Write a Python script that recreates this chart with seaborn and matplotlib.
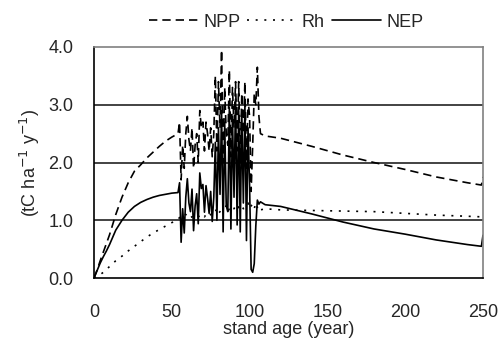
import pandas as pd
import seaborn as sns
import matplotlib.pyplot as plt

# stand age (years) and carbon fluxes (tC ha-1 y-1)
age = [0, 2, 4, 6, 8, 10, 14, 18, 22, 26, 30, 34, 38, 42, 46, 50, 54,
       55, 56, 57, 58, 59, 60, 61, 62, 63, 64, 65, 66, 67, 68, 69, 70,
       71, 72, 73, 74, 75, 76, 77, 78, 79, 80, 81, 82, 83, 84, 85, 86,
       87, 88, 89, 90, 91, 92, 93, 94, 95, 96, 97, 98, 99, 100, 101, 102,
       103, 104, 105, 106, 107, 110, 120, 140, 160, 180, 200, 220, 240, 249, 250]

npp = [0.0, 0.14, 0.3, 0.45, 0.6, 0.75, 1.1, 1.4, 1.65, 1.85, 1.96, 2.08, 2.18, 2.28, 2.37, 2.44, 2.5,
       2.7, 1.7, 2.3, 1.9, 2.5, 2.8, 2.4, 2.2, 2.6, 1.9, 2.3, 2.5, 2.0, 2.9, 2.6, 2.7,
       2.2, 2.7, 2.5, 2.2, 2.6, 2.1, 2.5, 3.5, 2.2, 3.4, 2.6, 3.95, 2.0, 3.3, 2.5, 2.3,
       3.6, 2.1, 3.3, 2.6, 3.4, 2.2, 3.4, 2.0, 3.2, 2.5, 3.4, 1.9, 3.1, 2.8, 1.5, 2.3,
       3.2, 3.0, 3.65, 2.8, 2.5, 2.46, 2.42, 2.28, 2.13, 2.0, 1.88, 1.75, 1.65, 1.61, 1.75]

rh = [0.0, 0.03, 0.06, 0.1, 0.15, 0.2, 0.3, 0.38, 0.47, 0.55, 0.63, 0.71, 0.78, 0.84, 0.9, 0.96, 1.01,
      1.05, 1.08, 1.1, 1.12, 1.1, 1.08, 1.1, 1.05, 1.06, 1.08, 1.05, 1.04, 1.06, 1.08, 1.05, 1.08,
      1.06, 1.1, 1.12, 1.08, 1.1, 1.12, 1.1, 1.15, 1.2, 1.12, 1.15, 1.18, 1.2, 1.22, 1.25, 1.15,
      1.2, 1.25, 1.22, 1.2, 1.25, 1.28, 1.22, 1.2, 1.25, 1.2, 1.22, 1.25, 1.3, 1.2, 1.25, 1.28,
      1.2, 1.3, 1.22, 1.15, 1.18, 1.2, 1.18, 1.17, 1.16, 1.15, 1.12, 1.09, 1.07, 1.06, 1.06]

nep = [0.0, 0.13, 0.26, 0.37, 0.47, 0.58, 0.83, 1.0, 1.14, 1.24, 1.31, 1.36, 1.4, 1.43, 1.45, 1.47, 1.48,
       1.65, 0.62, 1.2, 0.78, 1.4, 1.72, 1.3, 1.15, 1.54, 0.82, 1.25, 1.46, 0.94, 1.82, 1.55, 1.62,
       1.14, 1.6, 1.38, 1.12, 1.5, 0.98, 1.4, 2.35, 1.0, 2.6, 1.45, 2.9, 0.8, 2.7, 1.25, 1.15,
       2.95, 0.85, 2.8, 1.4, 3.1, 0.92, 2.9, 0.8, 2.85, 1.3, 3.0, 0.65, 2.6, 1.6, 0.15, 0.1,
       0.25, 0.9, 1.35, 1.28, 1.32, 1.27, 1.24, 1.11, 0.97, 0.85, 0.76, 0.66, 0.58, 0.55, 0.74]

fluxes = ["NPP", "Rh", "NEP"]

df = pd.DataFrame({
    "age": age * 3,
    "value": npp + rh + nep,
    "flux": ["NPP"] * len(age) + ["Rh"] * len(age) + ["NEP"] * len(age),
})

sns.set_style("white")
plt.rcParams["font.family"] = ["Liberation Sans", "DejaVu Sans"]

fig = plt.figure(figsize=(5.01, 3.45), dpi=100)
ax = fig.add_axes([0.1876, 0.194, 0.7764, 0.6698])

sns.lineplot(data=df, x="age", y="value", style="flux", style_order=fluxes,
             dashes={"NPP": (5, 3), "Rh": (1.2, 4), "NEP": ""},
             color="black", linewidth=1.2, estimator=None, sort=False, ax=ax)

ax.set_xlim(0, 250)
ax.set_ylim(0, 4.0)
ax.set_xticks([0, 50, 100, 150, 200, 250])
ax.set_yticks([0, 1, 2, 3, 4])
ax.set_yticklabels(["0.0", "1.0", "2.0", "3.0", "4.0"])
ax.tick_params(axis="x", direction="in", length=5, width=1, pad=19, labelsize=13, color="black")
ax.tick_params(axis="y", length=0, pad=15, labelsize=13)
for y in [1, 2, 3]:
    ax.axhline(y, color="#222222", linewidth=1.2, zorder=0)
for s in ["left", "bottom"]:
    ax.spines[s].set_color("black")
    ax.spines[s].set_linewidth(1.2)
for s in ["top", "right"]:
    ax.spines[s].set_color("#808080")
    ax.spines[s].set_linewidth(1.2)

ax.set_xlabel("stand age (year)", fontsize=13, labelpad=0)
ax.set_ylabel("(tC ha$^{-1}$ y$^{-1}$)", fontsize=13, labelpad=4)

handles, labels = ax.get_legend_handles_labels()
ax.get_legend().remove()
fig.legend(handles, labels, loc="center", bbox_to_anchor=(0.571, 0.936), ncol=3,
           frameon=False, fontsize=13, handlelength=2.7, columnspacing=0.4, handletextpad=0.3)

fig.savefig("out.png", dpi=100)
